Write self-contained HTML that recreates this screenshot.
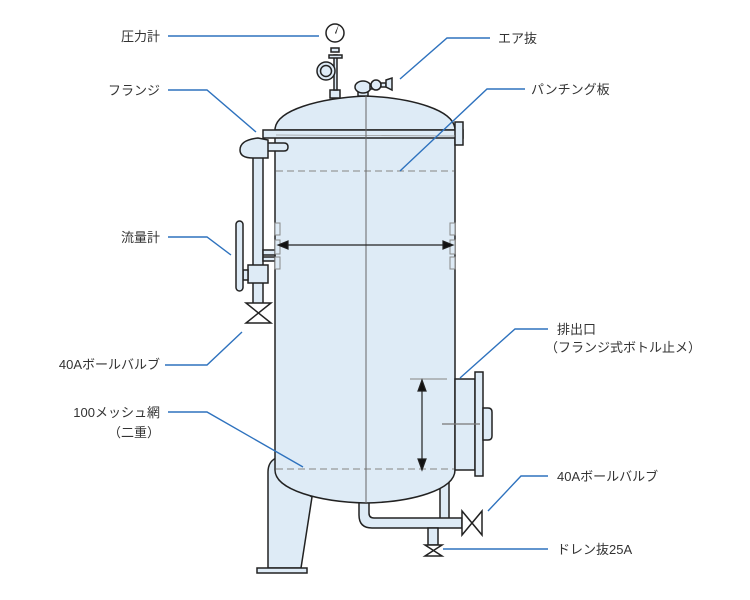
<!DOCTYPE html>
<html><head><meta charset="utf-8"><style>
html,body{margin:0;padding:0;background:#fff;}
svg{display:block;}
text{font-family:"Liberation Sans","Noto Sans CJK JP",sans-serif;font-size:13px;fill:#333;}
</style></head><body>
<svg width="750" height="600" viewBox="0 0 750 600" xmlns="http://www.w3.org/2000/svg">
<g stroke="#222" stroke-width="1.5" fill="#deebf6">
<!-- legs -->
<path d="M268 472 Q268 462 276 458 L276 472 L312 497 L301 568 L268 568 Z"/>
<rect x="257" y="568" width="50" height="5"/>
<rect x="440" y="480" width="9" height="40"/>
<!-- bottom pipe -->
<path d="M359 500 L359 515 Q359 528 372 528 L462 528 L462 518 L374 518 Q369 518 369 513 L369 500 Z"/>
<rect x="428" y="528" width="10" height="17"/>
<!-- body -->
<path d="M275 135 L275 470 C275 490 320 502 366 503 C412 502 455 490 455 470 L455 135 Z"/>
<!-- dome top -->
<path d="M275 130 C275 110 320 98 366 96 C412 98 455 110 455 130 Z"/>
<!-- top flange -->
<rect x="263" y="130" width="200" height="8"/>
<rect x="455" y="122" width="8" height="23"/>
<!-- outlet -->
<rect x="455" y="379" width="20" height="91"/>
<rect x="475" y="372" width="8" height="104"/>
<path d="M483 408 L488 408 Q492 408 492 412 L492 436 Q492 440 488 440 L483 440 Z"/>
<!-- left pipe -->
<rect x="253" y="150" width="10" height="155"/>
<path d="M263 143 L284 143 Q288 143 288 147 Q288 151 284 151 L263 151 Z"/>
<path d="M253 158 Q240 158 240 150 Q240 140 258 138 L268 140 L268 158 Z"/>
<rect x="263" y="250" width="12" height="5"/>
<rect x="263" y="257" width="12" height="4"/>
<rect x="248" y="265" width="20" height="18"/>
<rect x="243" y="270" width="5" height="10"/>
<rect x="236" y="221" width="7" height="70" rx="3.5"/>
<rect x="275" y="223" width="5" height="12" stroke="#888" stroke-width="1"/>
<rect x="275" y="240" width="5" height="14" stroke="#888" stroke-width="1"/>
<rect x="275" y="257" width="5" height="12" stroke="#888" stroke-width="1"/>
<rect x="450" y="223" width="5" height="12" stroke="#888" stroke-width="1"/>
<rect x="450" y="240" width="5" height="14" stroke="#888" stroke-width="1"/>
<rect x="450" y="257" width="5" height="12" stroke="#888" stroke-width="1"/>
<!-- valves -->
<path d="M246 303 L271 303 L246 323 L271 323 Z" fill="#fff"/>
<path d="M462 511 L462 535 L482 511 L482 535 Z" fill="#fff"/>
<path d="M425 545 L442 545 L425 556 L442 556 Z" fill="#fff"/>
<!-- gauge -->
<rect x="330" y="90" width="10" height="8"/>
<rect x="334" y="55" width="3" height="35"/>
<rect x="329" y="55" width="13" height="3"/>
<rect x="331" y="48" width="8" height="4"/>
<circle cx="335" cy="33" r="9" fill="#fff"/>
<circle cx="326" cy="71" r="9"/>
<circle cx="326" cy="71" r="5.5"/>
<!-- air valve -->
<rect x="358" y="88" width="10" height="8"/>
<ellipse cx="363" cy="87" rx="8" ry="6"/>
<rect x="370" y="85" width="6" height="4"/>
<circle cx="376" cy="85" r="5"/>
<rect x="381" y="83" width="5" height="4"/>
<path d="M386 80 L392 78 L392 90 L386 87 Z"/>
</g>
<path d="M335 33 L339 24 L336 34 Z" fill="#222"/>
<!-- dashed/center lines -->
<g stroke="#999" stroke-width="1.2" fill="none">
<line x1="276" y1="171" x2="454" y2="171" stroke-dasharray="7,4"/>
<line x1="276" y1="469" x2="454" y2="469" stroke-dasharray="7,4"/>
<line x1="276" y1="135" x2="455" y2="136" stroke-width="0.8"/>
<line x1="410" y1="379" x2="447" y2="379"/>
<line x1="442" y1="424" x2="480" y2="424" stroke="#777"/>
</g>
<line x1="366" y1="96" x2="366" y2="503" stroke="#666" stroke-width="1"/>
<!-- dimension arrows -->
<g stroke="#222" stroke-width="1.2" fill="#111">
<line x1="285" y1="245" x2="446" y2="245"/>
<path d="M278 245 L288 241 L288 249 Z"/>
<path d="M453 245 L443 241 L443 249 Z"/>
<line x1="422" y1="388" x2="422" y2="462"/>
<path d="M422 380 L418 391 L426 391 Z"/>
<path d="M422 470 L418 459 L426 459 Z"/>
</g>
<!-- leader lines -->
<g stroke="#2e72be" stroke-width="1.4" fill="none">
<polyline points="168,36 319,36"/>
<polyline points="400,79 447,38 490,38"/>
<polyline points="168,90 207,90 256,132"/>
<polyline points="400,171 487,89 525,89"/>
<polyline points="168,237 207,237 231,255"/>
<polyline points="165,365 207,365 242,332"/>
<polyline points="168,412 207,412 303,467"/>
<polyline points="460,378 515,329 548,329"/>
<polyline points="488,511 521,476 548,476"/>
<polyline points="443,549 548,549"/>
</g>
<!-- labels -->
<g>
<text x="160" y="41" text-anchor="end">圧力計</text>
<text x="498" y="43">エア抜</text>
<text x="160" y="95" text-anchor="end">フランジ</text>
<text x="531" y="94">パンチング板</text>
<text x="160" y="242" text-anchor="end">流量計</text>
<text x="160" y="369" text-anchor="end">40Aボールバルブ</text>
<text x="160" y="417" text-anchor="end">100メッシュ網</text>
<text x="160" y="437" text-anchor="end">（二重）</text>
<text x="557" y="334">排出口</text>
<text x="545" y="352">（フランジ式ボトル止メ）</text>
<text x="557" y="481">40Aボールバルブ</text>
<text x="557" y="554">ドレン抜25A</text>
</g>
</svg>
</body></html>
